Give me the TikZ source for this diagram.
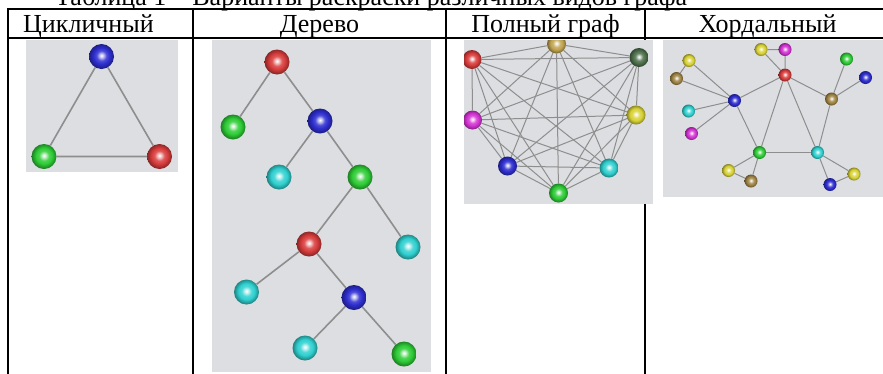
\documentclass[tikz,border=0pt]{standalone}
\usepackage{fontspec}
\setmainfont{Liberation Serif}
\usetikzlibrary{shadings}
\pgfdeclarelayer{panel}
\pgfdeclarelayer{links}
\pgfsetlayers{panel,links,main}

\definecolor{panelgray}{HTML}{DCDEE1}
\definecolor{linkgray}{HTML}{8E8E8E}
\definecolor{cRed}{HTML}{D83C3C}
\definecolor{cBlue}{HTML}{2E2ED0}
\definecolor{cGreen}{HTML}{2ECC36}
\definecolor{cCyan}{HTML}{30D0D0}
\definecolor{cMagenta}{HTML}{D433D4}
\definecolor{cYellow}{HTML}{D8D236}
\definecolor{cBrown}{HTML}{A08444}
\definecolor{cGold}{HTML}{C0A450}
\definecolor{cDarkGreen}{HTML}{4E704C}

% glossy sphere: bright spot near the centre, darker rim
\makeatletter
\pgfdeclareradialshading[tikz@ball]{glossy}{\pgfqpoint{0bp}{2bp}}{%
  color(0bp)=(white);
  color(4bp)=(tikz@ball!30!white);
  color(10bp)=(tikz@ball!85!white);
  color(16bp)=(tikz@ball);
  color(22bp)=(tikz@ball!75!black);
  color(27bp)=(tikz@ball!55!black);
  color(50bp)=(tikz@ball!55!black)}
\makeatother

\tikzset{
  gnode/.style={circle, inner sep=0pt, minimum size=#1},
  orb/.style={ball color=#1, shading=glossy},
  bigball/.style={gnode=25pt},
  midball/.style={gnode=19pt},
  smallball/.style={gnode=13pt},
  rule/.style={line width=2pt, black},
  heading/.style={anchor=base, inner sep=0pt, font=\fontsize{26}{30}\selectfont},
  thicklink/.style={draw=linkgray, line width=1.6pt},
  thinlink/.style={draw=linkgray, line width=1pt},
  panelbox/.style={fill=panelgray, draw=none}
}

\begin{document}
\begin{tikzpicture}[x=1pt, y=-1pt]
\useasboundingbox (0,0) rectangle (883,373);
\clip (0,0) rectangle (883,373);

% caption above the table
\node[anchor=base west, inner sep=0pt, font=\fontsize{26}{30}\selectfont] (caption) at (55,5)
  {Таблица 1 – Варианты раскраски различных видов графа};

% table rules and picture panels
\begin{pgfonlayer}{panel}
  \draw[rule] (7,9) -- (892,9);
  \draw[rule] (7,38) -- (892,38);
  \draw[rule] (8,9) -- (8,374);
  \draw[rule] (193,9) -- (193,374);
  \draw[rule] (446,9) -- (446,374);
  \draw[rule] (645,9) -- (645,374);
  \draw[rule] (890,9) -- (890,374);
  \fill[panelbox] (26,40) rectangle (178,172);
  \fill[panelbox] (212,40) rectangle (431,372);
  \fill[panelbox] (464,40) rectangle (653,204);
  \fill[panelbox] (663,40) rectangle (884,197);
\end{pgfonlayer}

% column headings
\node[heading] (h1) at (88.5,32) {Цикличный};
\node[heading] (h2) at (319.5,32) {Дерево};
\node[heading] (h3) at (545.5,32) {Полный граф};
\node[heading] (h4) at (767.5,32) {Хордальный};

% cycle
\node[bigball, orb=cBlue]  (c1) at (101.5,56.5) {};
\node[bigball, orb=cGreen] (c2) at (44,156.5) {};
\node[bigball, orb=cRed]   (c3) at (159.5,156.5) {};
\begin{pgfonlayer}{links}
  \draw[thicklink] (c1) -- (c2) -- (c3) -- (c1);
\end{pgfonlayer}

% tree
\node[bigball, orb=cRed]   (t1)  at (277,62) {};
\node[bigball, orb=cGreen] (t2)  at (233,127) {};
\node[bigball, orb=cBlue]  (t3)  at (320,121) {};
\node[bigball, orb=cCyan]  (t4)  at (279,177) {};
\node[bigball, orb=cGreen] (t5)  at (360,177) {};
\node[bigball, orb=cRed]   (t6)  at (309,244) {};
\node[bigball, orb=cCyan]  (t7)  at (408,247) {};
\node[bigball, orb=cCyan]  (t8)  at (246.5,292) {};
\node[bigball, orb=cBlue]  (t9)  at (354,297.5) {};
\node[bigball, orb=cCyan]  (t10) at (305,348) {};
\node[bigball, orb=cGreen] (t11) at (404,354) {};
\begin{pgfonlayer}{links}
  \draw[thicklink] (t1) -- (t2);
  \draw[thicklink] (t1) -- (t3);
  \draw[thicklink] (t3) -- (t4);
  \draw[thicklink] (t3) -- (t5);
  \draw[thicklink] (t5) -- (t6);
  \draw[thicklink] (t5) -- (t7);
  \draw[thicklink] (t6) -- (t8);
  \draw[thicklink] (t6) -- (t9);
  \draw[thicklink] (t9) -- (t10);
  \draw[thicklink] (t9) -- (t11);
\end{pgfonlayer}

% complete graph on eight vertices
\begin{scope}
  \clip (464,40) rectangle (653,204);
  \node[midball, orb=cGold]      (k1) at (556.5,44) {};
  \node[midball, orb=cDarkGreen] (k2) at (639,57.5) {};
  \node[midball, orb=cYellow]    (k3) at (636,115) {};
  \node[midball, orb=cCyan]      (k4) at (609,168) {};
  \node[midball, orb=cGreen]     (k5) at (558.5,193) {};
  \node[midball, orb=cBlue]      (k6) at (507.5,166) {};
  \node[midball, orb=cMagenta]   (k7) at (472.5,120) {};
  \node[midball, orb=cRed]       (k8) at (472,59.5) {};
\end{scope}
\begin{pgfonlayer}{links}
  \foreach \i in {1,...,7} {
    \pgfmathtruncatemacro\nexti{\i+1}
    \foreach \j in {\nexti,...,8} {
      \draw[thinlink] (k\i) -- (k\j);
    }
  }
\end{pgfonlayer}

% chordal graph
\node[smallball, orb=cYellow]  (d1)  at (761,49.5) {};
\node[smallball, orb=cMagenta] (d2)  at (785,49.5) {};
\node[smallball, orb=cRed]     (d3)  at (785,75) {};
\node[smallball, orb=cYellow]  (d4)  at (689,60.5) {};
\node[smallball, orb=cBrown]   (d5)  at (676.5,78.5) {};
\node[smallball, orb=cBlue]    (d6)  at (734.5,100.5) {};
\node[smallball, orb=cCyan]    (d7)  at (688.5,111) {};
\node[smallball, orb=cMagenta] (d8)  at (691.5,133.5) {};
\node[smallball, orb=cGreen]   (d9)  at (846.5,59) {};
\node[smallball, orb=cBlue]    (d10) at (865.5,77.5) {};
\node[smallball, orb=cBrown]   (d11) at (831.5,99) {};
\node[smallball, orb=cGreen]   (d12) at (759.5,152.5) {};
\node[smallball, orb=cCyan]    (d13) at (817.5,152.5) {};
\node[smallball, orb=cYellow]  (d14) at (728.5,170.5) {};
\node[smallball, orb=cBrown]   (d15) at (751,181) {};
\node[smallball, orb=cYellow]  (d16) at (854,174) {};
\node[smallball, orb=cBlue]    (d17) at (830,184.5) {};
\begin{pgfonlayer}{links}
  \draw[thinlink] (d1) -- (d2) -- (d3) -- (d1);
  \draw[thinlink] (d3) -- (d6);
  \draw[thinlink] (d3) -- (d11);
  \draw[thinlink] (d3) -- (d12);
  \draw[thinlink] (d3) -- (d13);
  \draw[thinlink] (d4) -- (d5) -- (d6) -- (d4);
  \draw[thinlink] (d7) -- (d6) -- (d8);
  \draw[thinlink] (d6) -- (d12);
  \draw[thinlink] (d12) -- (d13);
  \draw[thinlink] (d12) -- (d14) -- (d15) -- (d12);
  \draw[thinlink] (d13) -- (d11);
  \draw[thinlink] (d13) -- (d16) -- (d17) -- (d13);
  \draw[thinlink] (d9) -- (d11) -- (d10);
\end{pgfonlayer}
\end{tikzpicture}
\end{document}
